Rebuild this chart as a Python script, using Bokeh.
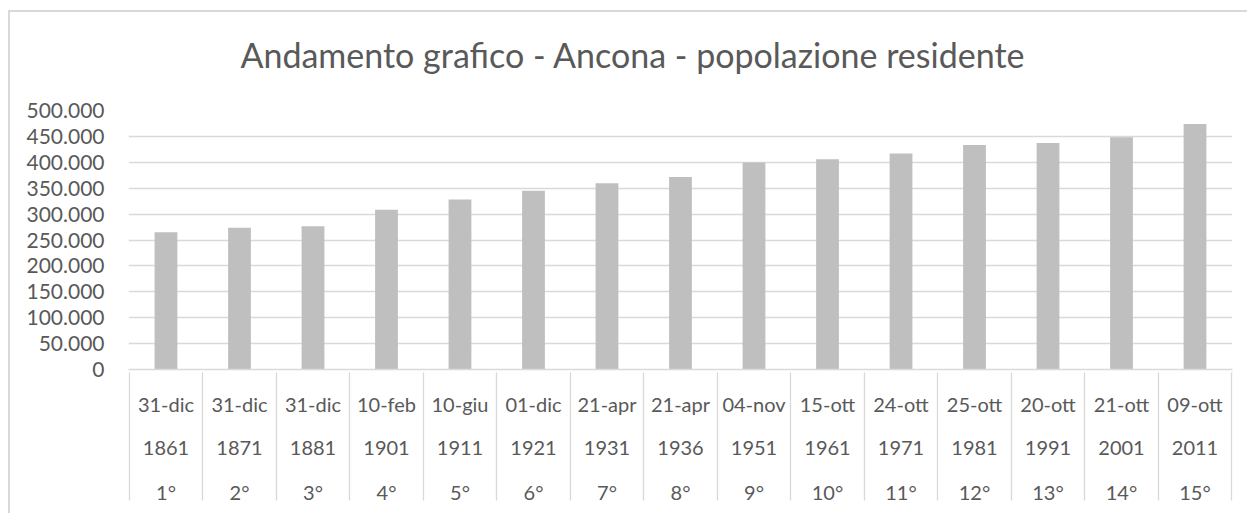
from bokeh.plotting import figure
from bokeh.models import FactorRange, Range1d, FixedTicker, CustomJSTickFormatter, ColumnDataSource, Title
from bokeh.embed import file_html
from bokeh.resources import INLINE

title = "Andamento grafico - Ancona - popolazione residente"
censimenti = ["1°", "2°", "3°", "4°", "5°", "6°", "7°", "8°", "9°", "10°", "11°", "12°", "13°", "14°", "15°"]
anni = ["1861", "1871", "1881", "1901", "1911", "1921", "1931", "1936", "1951", "1961", "1971", "1981", "1991", "2001", "2011"]
date = ["31-dic", "31-dic", "31-dic", "10-feb", "10-giu", "01-dic", "21-apr", "21-apr", "04-nov", "15-ott",
        "24-ott", "25-ott", "20-ott", "21-ott", "09-ott"]
popolazione = [265000, 273600, 276700, 308400, 328400, 345200, 359400, 371600, 399400, 405800,
               416800, 433500, 437300, 448400, 474100]
y_ticks = [0, 50000, 100000, 150000, 200000, 250000, 300000, 350000, 400000, 450000, 500000]

factors = list(zip(censimenti, anni, date))
source = ColumnDataSource(data=dict(x=factors, y=popolazione))

# empty edge slots, hidden by negative padding, so the axis draws its outer separators
range_factors = [("", "", "")] + factors + [(" ", " ", " ")]

FONT = "Lato"
TXT = "#595959"
GRID = "#d9d9d9"
FS = "21px"
XFS = "20px"

x_range = FactorRange(factors=range_factors, range_padding=-0.99, range_padding_units="absolute",
                      group_padding=0, subgroup_padding=0)
p = figure(width=1239, height=503, x_range=x_range, y_range=Range1d(0, 500000),
           output_backend="svg", toolbar_location=None, title=None,
           min_border_left=118, min_border_right=17, min_border_top=98, min_border_bottom=146)
p.styles = {"margin-left": "8px", "margin-top": "10px",
            "border-left": "2px solid #d9d9d9", "border-top": "2px solid #d9d9d9"}

p.vbar(x="x", top="y", width=0.31, source=source, fill_color="#bfbfbf", line_color=None)

spacer = Title(text=" ", text_font=FONT, text_font_size="10px", standoff=3, text_color="white")
p.add_layout(spacer, "above")
t = Title(text=title, text_font=FONT, text_font_size="34px", text_font_style="normal",
          text_color=TXT, align="left", offset=112, standoff=38)
p.add_layout(t, "above")

p.outline_line_color = None
p.background_fill_color = "white"
p.border_fill_color = "white"

p.xgrid.grid_line_color = None
p.ygrid.grid_line_color = GRID
p.ygrid.grid_line_width = 1.3
p.yaxis.ticker = FixedTicker(ticks=y_ticks)
p.yaxis.formatter = CustomJSTickFormatter(code="""
return tick.toFixed(0).replace(/\\B(?=(\\d{3})+(?!\\d))/g, ".");
""")
p.yaxis.axis_line_color = None
p.yaxis.major_tick_line_color = None
p.yaxis.minor_tick_line_color = None
p.yaxis.major_tick_out = 0
p.yaxis.minor_tick_out = 0
p.yaxis.major_label_text_font = FONT
p.yaxis.major_label_text_font_size = FS
p.yaxis.major_label_text_color = TXT
p.yaxis.major_label_standoff = 24

xa = p.xaxis[0]
xa.axis_line_color = GRID
xa.axis_line_width = 1.3
xa.major_tick_line_color = None
xa.minor_tick_line_color = None
xa.major_tick_out = 0
xa.minor_tick_out = 0
xa.major_label_text_font = FONT
xa.major_label_text_font_size = XFS
xa.major_label_text_color = TXT
xa.major_label_standoff = 22
xa.subgroup_text_font = FONT
xa.subgroup_text_font_size = XFS
xa.subgroup_text_color = TXT
xa.subgroup_text_font_style = "normal"
xa.group_text_font = FONT
xa.group_text_font_size = XFS
xa.group_text_color = TXT
xa.group_text_font_style = "normal"
xa.separator_line_color = GRID
xa.separator_line_width = 1.3

open("out.html", "w").write(file_html(p, INLINE))
